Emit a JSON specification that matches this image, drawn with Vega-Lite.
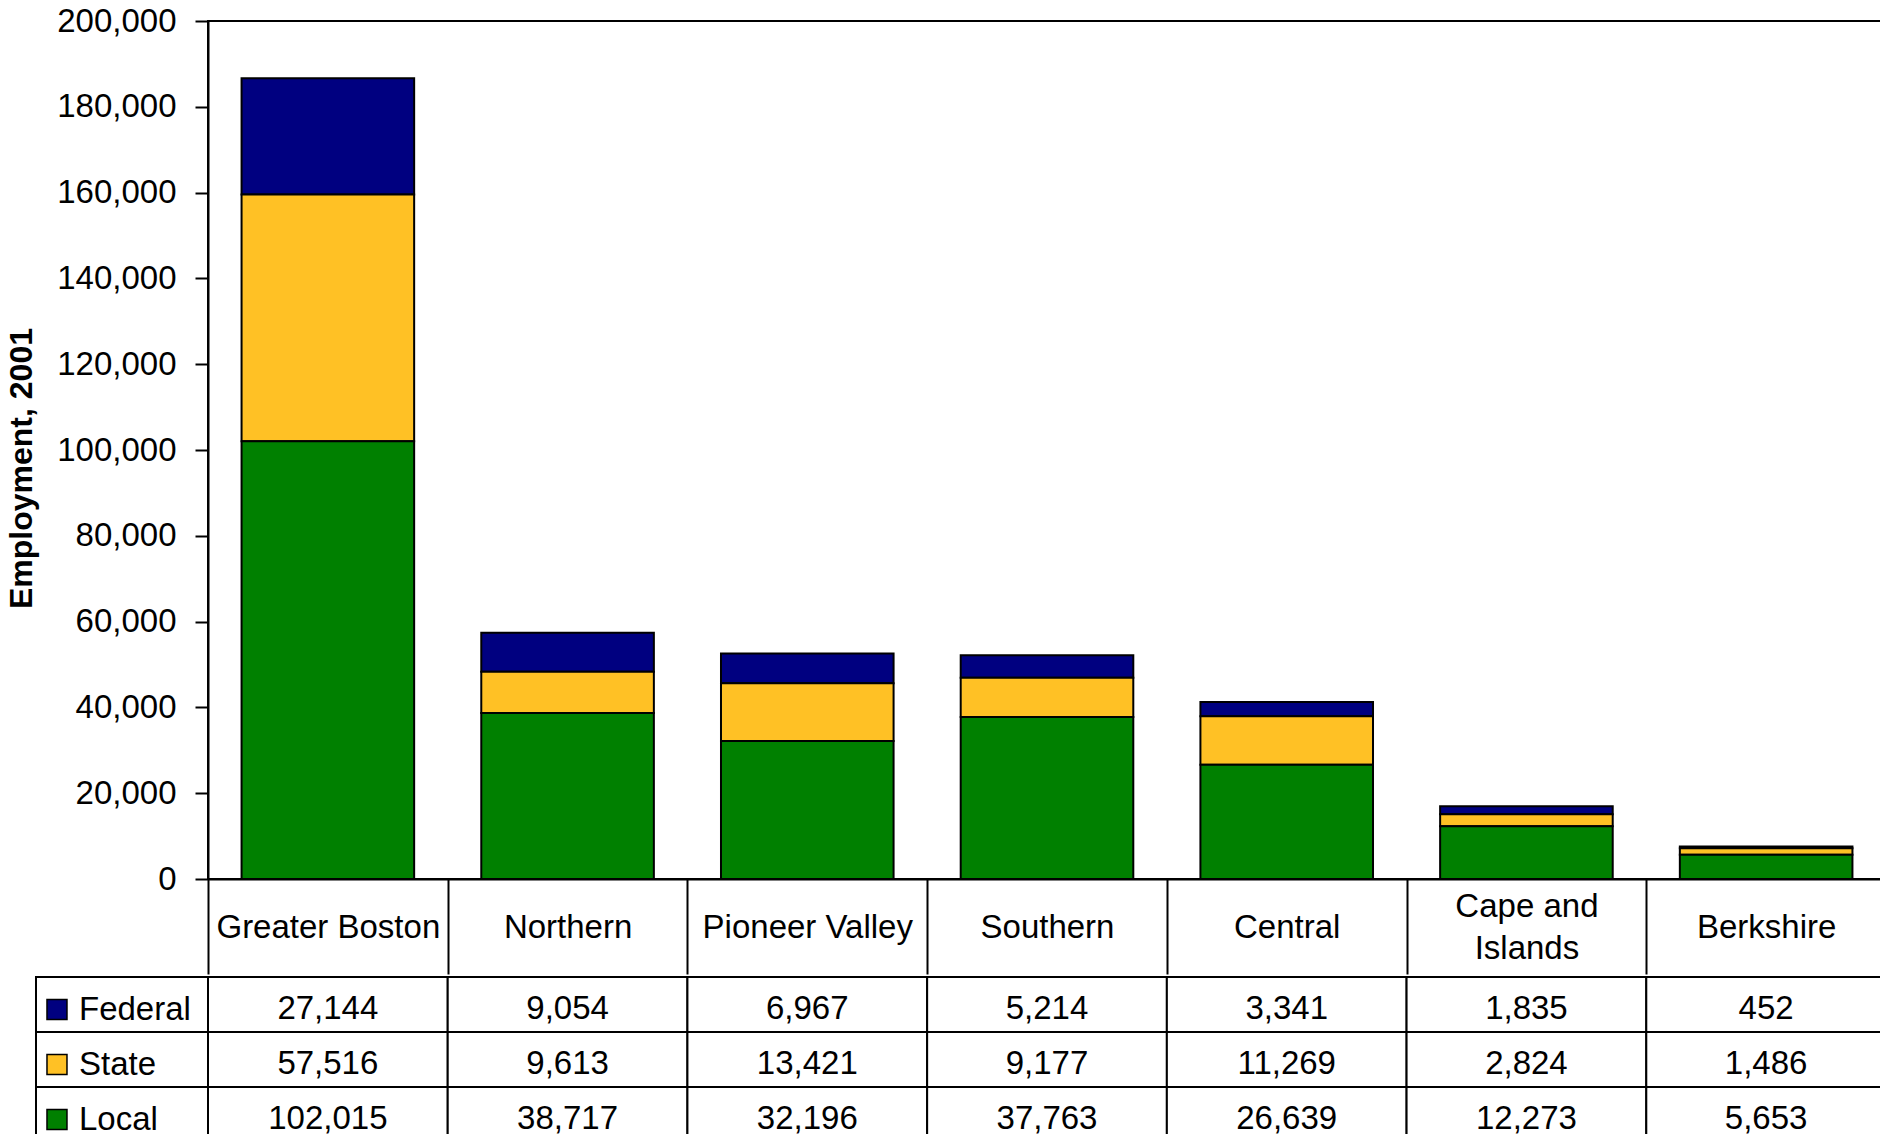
{
  "$schema": "https://vega.github.io/schema/vega-lite/v6.json",
  "background": "white",
  "padding": {"left": 4, "top": 4, "right": 0, "bottom": 0},
  "config": {"font": "Liberation Sans", "view": {"stroke": null}},
  "datasets": {
    "emp": [
      {"region": "Greater Boston", "type": "Federal", "value": 27144, "rank": 3},
      {"region": "Greater Boston", "type": "State", "value": 57516, "rank": 2},
      {"region": "Greater Boston", "type": "Local", "value": 102015, "rank": 1},
      {"region": "Northern", "type": "Federal", "value": 9054, "rank": 3},
      {"region": "Northern", "type": "State", "value": 9613, "rank": 2},
      {"region": "Northern", "type": "Local", "value": 38717, "rank": 1},
      {"region": "Pioneer Valley", "type": "Federal", "value": 6967, "rank": 3},
      {"region": "Pioneer Valley", "type": "State", "value": 13421, "rank": 2},
      {"region": "Pioneer Valley", "type": "Local", "value": 32196, "rank": 1},
      {"region": "Southern", "type": "Federal", "value": 5214, "rank": 3},
      {"region": "Southern", "type": "State", "value": 9177, "rank": 2},
      {"region": "Southern", "type": "Local", "value": 37763, "rank": 1},
      {"region": "Central", "type": "Federal", "value": 3341, "rank": 3},
      {"region": "Central", "type": "State", "value": 11269, "rank": 2},
      {"region": "Central", "type": "Local", "value": 26639, "rank": 1},
      {"region": "Cape and Islands", "type": "Federal", "value": 1835, "rank": 3},
      {"region": "Cape and Islands", "type": "State", "value": 2824, "rank": 2},
      {"region": "Cape and Islands", "type": "Local", "value": 12273, "rank": 1},
      {"region": "Berkshire", "type": "Federal", "value": 452, "rank": 3},
      {"region": "Berkshire", "type": "State", "value": 1486, "rank": 2},
      {"region": "Berkshire", "type": "Local", "value": 5653, "rank": 1}
    ]
  },
  "columns": 1,
  "spacing": 0,
  "resolve": {"scale": {"x": "independent", "y": "independent"}},
  "concat": [
    {
      "spacing": 0,
      "bounds": "flush",
      "resolve": {"scale": {"x": "independent", "y": "independent"}},
      "hconcat": [
        {
          "width": 172,
          "height": 858,
          "data": {"values": []},
          "mark": "point"
        },
        {
          "width": 1678,
          "height": 858,
          "view": {"stroke": "black", "strokeWidth": 2},
          "data": {"name": "emp"},
          "mark": {"type": "bar", "stroke": "black", "strokeWidth": 2},
          "encoding": {
            "x": {
              "field": "region", "type": "nominal",
              "sort": ["Greater Boston", "Northern", "Pioneer Valley", "Southern", "Central", "Cape and Islands", "Berkshire"],
              "scale": {"paddingInner": 0.28, "paddingOuter": 0.14},
              "axis": {
                "title": null, "orient": "bottom", "bandPosition": 0, "tickOffset": -33.56, "labelOffset": 33.56,
                "tickSize": 95, "tickWidth": 2, "tickColor": "black", "domainColor": "black", "domainWidth": 2,
                "labelFontSize": 33, "labelColor": "black", "labelBaseline": "middle",
                "labelPadding": {"condition": {"test": "datum.label == 'Cape and Islands'", "value": -67.5}, "value": -46.5},
                "labelAngle": 0, "labelLimit": 400, "labelOverlap": false, "labelFlush": false, "labelLineHeight": 42,
                "labelExpr": "datum.label == 'Cape and Islands' ? ['Cape and', 'Islands'] : datum.label",
                "minExtent": 95, "maxExtent": 95
              }
            },
            "y": {
              "field": "value", "type": "quantitative", "stack": "zero",
              "scale": {"domain": [0, 200000], "nice": false},
              "axis": {
                "title": "Employment, 2001", "titleFontSize": 32, "titleFontWeight": "bold", "titleColor": "black",
                "titlePadding": 18, "titleY": 447,
                "values": [0, 20000, 40000, 60000, 80000, 100000, 120000, 140000, 160000, 180000, 200000],
                "format": ",.0f", "grid": false, "tickSize": 13, "tickWidth": 2, "tickColor": "black",
                "domainColor": "black", "domainWidth": 2, "labelFontSize": 33, "labelColor": "black", "labelPadding": 19
              }
            },
            "color": {
              "field": "type", "type": "nominal",
              "scale": {"domain": ["Federal", "State", "Local"], "range": ["#000080", "#FFC125", "#008000"]},
              "legend": null
            },
            "order": {"field": "rank", "type": "quantitative"}
          }
        }
      ]
    },
    {
      "spacing": 0,
      "bounds": "flush",
      "resolve": {"scale": {"x": "independent", "y": "independent"}},
      "hconcat": [
        {
          "width": 172,
          "height": 165,
          "data": {"name": "emp"},
          "transform": [{"filter": "datum.region == 'Greater Boston'"}],
          "encoding": {
            "y": {
              "field": "type", "type": "nominal", "sort": ["Federal", "State", "Local"],
              "scale": {"paddingInner": 0, "paddingOuter": 0},
              "axis": null
            }
          },
          "layer": [
            {
              "mark": {"type": "bar", "fill": "white", "stroke": "black", "strokeWidth": 2},
              "encoding": {
                "x": {"datum": 0, "type": "quantitative", "scale": {"domain": [0, 1]}, "axis": null},
                "x2": {"datum": 1}
              }
            },
            {
              "mark": {"type": "point", "shape": "square", "filled": true, "size": 400, "stroke": "black", "strokeWidth": 1.5, "opacity": 1, "yOffset": 5},
              "encoding": {
                "x": {"datum": 0.122, "type": "quantitative"},
                "color": {
                  "field": "type", "type": "nominal",
                  "scale": {"domain": ["Federal", "State", "Local"], "range": ["#000080", "#FFC125", "#008000"]},
                  "legend": null
                }
              }
            },
            {
              "mark": {"type": "text", "align": "left", "baseline": "middle", "fontSize": 33, "color": "black", "yOffset": 5},
              "encoding": {
                "x": {"datum": 0.25, "type": "quantitative"},
                "text": {"field": "type"}
              }
            }
          ]
        },
        {
          "width": 1678,
          "height": 165,
          "data": {"name": "emp"},
          "encoding": {
            "x": {
              "field": "region", "type": "nominal",
              "sort": ["Greater Boston", "Northern", "Pioneer Valley", "Southern", "Central", "Cape and Islands", "Berkshire"],
              "scale": {"paddingInner": 0, "paddingOuter": 0},
              "axis": null
            },
            "y": {
              "field": "type", "type": "nominal", "sort": ["Federal", "State", "Local"],
              "scale": {"paddingInner": 0, "paddingOuter": 0},
              "axis": null
            }
          },
          "layer": [
            {"mark": {"type": "rect", "fill": "white", "stroke": "black", "strokeWidth": 2}},
            {
              "mark": {"type": "text", "baseline": "middle", "fontSize": 33, "color": "black", "yOffset": 4},
              "encoding": {"text": {"field": "value", "type": "quantitative", "format": ","}}
            }
          ]
        }
      ]
    }
  ]
}
